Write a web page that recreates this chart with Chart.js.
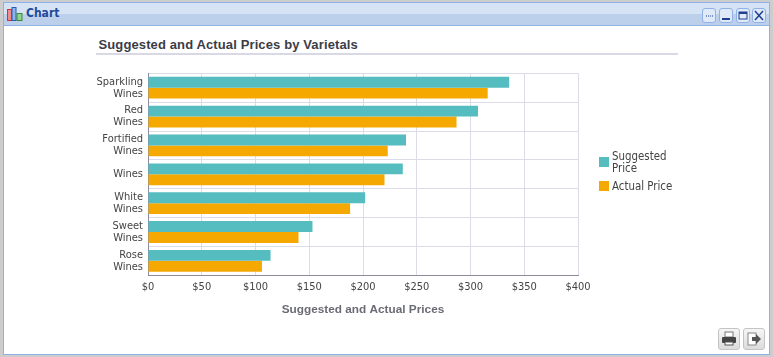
<!DOCTYPE html>
<html>
<head>
<meta charset="utf-8">
<script src="https://cdn.jsdelivr.net/npm/chart.js@4"></script>
<style>
html, body { margin: 0; padding: 0; background: #cdcdcd; overflow: hidden; }
#win { position: absolute; left: 3px; top: 2px; width: 765px; height: 351px; background: #fff; border: 1px solid #8fb1e8; }
#head { position: absolute; left: 0; top: 0; width: 765px; height: 22px; background: linear-gradient(#d6e3f4 0, #d6e3f4 50%, #bcd0ec 50%, #bcd0ec 100%); border-bottom: 1px solid #8fb1e8; }
#headText { position: absolute; left: 26px; top: 6px; font: bold 12px "DejaVu Sans Condensed", "DejaVu Sans", sans-serif; color: #1f4a9c; }
#chartTitle { position: absolute; left: 98.5px; top: 37px; font: bold 13px "Liberation Sans", sans-serif; color: #3c3c46; letter-spacing: 0.12px; }
#rule { position: absolute; left: 96px; top: 53px; width: 582px; height: 2px; background: #d9d9e6; }
canvas { position: absolute; left: 0; top: 0; }
#legend { position: absolute; left: 599px; top: 150px; width: 90px; font: 11.4px/12px "DejaVu Sans Condensed", "Noto Sans", sans-serif; color: #444; }
.item { position: relative; padding-left: 13px; margin-bottom: 6px; }
.swatch { position: absolute; left: 0; width: 10px; height: 10px; }
.btn { position: absolute; top: 8px; width: 12px; height: 13px; border: 1px solid #8fb1e8; border-radius: 3px; background: #dfe9f7; }
.tool { position: absolute; top: 328px; width: 20px; height: 20px; border: 1px solid #c4c4c4; border-radius: 3px; background: linear-gradient(#f6f6f6, #dcdcdc); }
svg { position: absolute; left: 0; top: 0; }
</style>
</head>
<body>
<div id="win"><div id="head"></div></div>
<svg width="20" height="18" style="left:7px;top:6px">
  <rect x="0.5" y="3.5" width="4" height="11" fill="#f28b8b" stroke="#c33"/>
  <rect x="5" y="1.5" width="4" height="13" fill="#8db4ee" stroke="#2a5cb0"/>
  <rect x="10" y="7.5" width="5" height="7" fill="#8fd48f" stroke="#3a8a3a"/>
</svg>
<div id="headText">Chart</div>

<div class="btn" style="left:702px"><svg width="12" height="13"><path d="M3 7h1M5 7h1M7 7h1M9 7h1" stroke="#1f3f8f"/></svg></div>
<div class="btn" style="left:719px"><svg width="12" height="13"><path d="M2 10h8" stroke="#1f3f8f" stroke-width="2"/></svg></div>
<div class="btn" style="left:736px"><svg width="12" height="13"><rect x="2" y="3" width="8" height="7" fill="none" stroke="#1f3f8f"/><path d="M2 4h8" stroke="#1f3f8f" stroke-width="2"/></svg></div>
<div class="btn" style="left:752px"><svg width="12" height="13"><path d="M2 2l8 9M10 2l-8 9" stroke="#1f3f8f" stroke-width="1.5"/></svg></div>

<div id="chartTitle">Suggested and Actual Prices by Varietals</div>
<div id="rule"></div>
<canvas id="priceChart" width="773" height="357"></canvas>
<div id="legend"></div>

<div class="tool" style="left:718px"><svg width="20" height="20"><rect x="6" y="3" width="8" height="5" fill="#fff" stroke="#777"/><rect x="3" y="8" width="14" height="6" rx="1" fill="#444"/><rect x="6" y="13" width="8" height="3" fill="#fff" stroke="#555"/></svg></div>
<div class="tool" style="left:743px"><svg width="20" height="20"><rect x="4" y="4" width="8" height="12" fill="#fff" stroke="#888"/><path d="M8 8h4V5l5 5-5 5v-3H8z" fill="#555"/></svg></div>

<script>
const categories = [['Sparkling', 'Wines'], ['Red', 'Wines'], ['Fortified', 'Wines'], 'Wines', ['White', 'Wines'], ['Sweet', 'Wines'], ['Rose', 'Wines']];
const suggestedPrice = [336, 307, 240, 237, 202, 153, 114];
const actualPrice = [316, 287, 223, 220, 188, 140, 106];
const seriesNames = [['Suggested', 'Price'], ['Actual Price']];
const seriesColors = ['#55bcc0', '#f5a900'];
const axisTitle = 'Suggested and Actual Prices';

const gridColor = '#dcdce8';
const textColor = '#444';
const tickFont = { family: '"DejaVu Sans Condensed", "Noto Sans", sans-serif', size: 11, lineHeight: '12px' };

new Chart(document.getElementById('priceChart').getContext('2d'), {
    type: 'bar',
    data: {
        labels: categories,
        datasets: [
            { label: 'Suggested Price', data: suggestedPrice, backgroundColor: seriesColors[0] },
            { label: 'Actual Price', data: actualPrice, backgroundColor: seriesColors[1] }
        ]
    },
    options: {
        indexAxis: 'y',
        responsive: false,
        animation: false,
        categoryPercentage: 0.755,
        barPercentage: 1,
        layout: { padding: { top: 73.3, right: 195, left: 0, bottom: 40.7 } },
        plugins: { legend: { display: false }, tooltip: { enabled: false } },
        scales: {
            x: {
                min: 0,
                max: 400,
                ticks: {
                    stepSize: 50,
                    color: textColor,
                    font: tickFont,
                    padding: 6,
                    maxRotation: 0,
                    callback: v => '$' + v
                },
                grid: { color: gridColor, drawTicks: false },
                border: { color: '#8c8ca0' },
                title: {
                    display: true,
                    text: axisTitle,
                    color: '#6b6b75',
                    font: { family: '"Liberation Sans", sans-serif', size: 11.8, weight: 'bold' },
                    padding: { top: 0, bottom: -0.8 }
                },
                afterFit: s => { s.height = 41; }
            },
            y: {
                ticks: { color: textColor, font: tickFont, padding: 5, autoSkip: false },
                grid: { color: gridColor, drawTicks: false },
                border: { color: '#8c8ca0' },
                afterFit: s => { s.width = 148; }
            }
        }
    }
});

// html legend, the chart's own cannot wrap a label like the original
document.getElementById('legend').innerHTML = seriesNames.map((name, i) => `
    <div class="item">
        <span class="swatch" style="background:${seriesColors[i]};top:${name.length > 1 ? 7 : 1}px"></span>
        ${name.join('<br>')}
    </div>
`).join('');
</script>
</body>
</html>
